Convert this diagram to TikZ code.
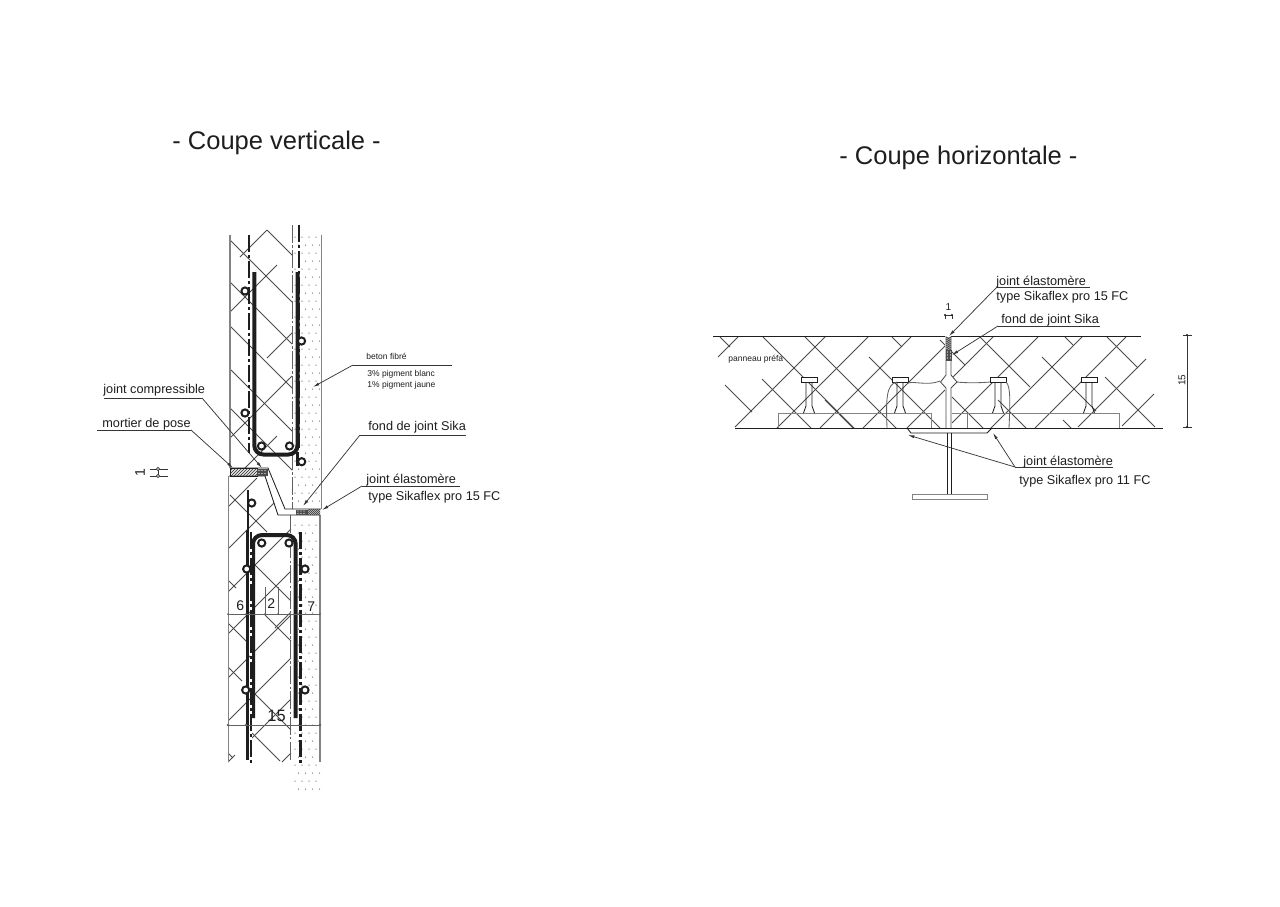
\documentclass[tikz,border=0pt]{standalone}
\usepackage{fontspec}
\setmainfont{Liberation Sans}
\usetikzlibrary{arrows.meta}
\newcommand{\lab}[1]{\fontsize{6.35pt}{7pt}\selectfont #1}
\newcommand{\smalllab}[1]{\fontsize{4.25pt}{5pt}\selectfont #1}
\newcommand{\dimlab}[1]{\fontsize{7pt}{8pt}\selectfont #1}
\definecolor{ink}{HTML}{1E1E1E}
\tikzset{
 thin line/.style={draw=ink,line width=0.42pt},
 wall/.style={draw=ink!55,line width=0.6pt},
 hatchline/.style={draw=ink!80,line width=0.42pt},
 heavy/.style={draw=ink,line width=2pt,rounded corners=4.5pt},
 thickdd/.style={draw=ink,line width=1.35pt,dash pattern=on 8.5pt off 1.5pt on 1.5pt off 1.5pt},
 axisline/.style={draw=ink!70,line width=0.45pt,dash pattern=on 9pt off 1.2pt on 1.2pt off 1.2pt},
 bar/.style={circle,draw=ink,line width=1pt,fill=white,minimum size=3.6pt,inner sep=0pt},
 lbl/.style={anchor=base west,inner sep=0pt,text=ink},
 leader/.style={draw=ink!90,line width=0.36pt},
 arrowed/.style={leader,-{Latex[length=3.2pt,width=1.5pt]}},
 plate/.style={draw=ink!55,line width=0.5pt},
}
\begin{document}
\begin{tikzpicture}[x=0.5pt,y=-0.5pt]
\useasboundingbox[fill=white] (0,0) rectangle (1280,906);
% ---------- titles
\node[lbl] (t1) at (172,149) {\fontsize{12.75pt}{14pt}\selectfont - Coupe verticale -};
\node[lbl] (t2) at (839,164) {\fontsize{12.75pt}{14pt}\selectfont - Coupe horizontale -};
% ---------- vertical section: hatching
\begin{scope}
\clip (229,228) -- (292,228) -- (292,509) -- (285,509) -- (268,468) -- (229,468) -- cycle;
\foreach \c/\a/\b in {10/230/293,-37/267/293,52/230/292,96/230/293,139/230/293,178/230/293}
  \draw[hatchline] (\a,\a+\c) -- (\b,\b+\c);
\foreach \c/\a/\b in {497/240/267,542/230/277,625/267/293,668/230/292,713/245/277}
  \draw[hatchline] (\a,\c-\a) -- (\b,\c-\b);
\end{scope}
\begin{scope}
\clip (228,476) -- (265,476) -- (278,515) -- (291,515) -- (291,763) -- (228,763) -- cycle;
\foreach \c/\a/\b in {265/230/267,310/253/291,352/229/236,350/265/291,395/228/247,439/228/242,439/253/291,481/252/280,525/228/233}
  \draw[hatchline] (\a,\a+\c) -- (\b,\b+\c);
\foreach \c/\a/\b in {735/229/257,777/229/275,820/229/291,862/229/291,906/228/291,903/275/291,949/228/291,990/228/235,990/252/291,1044/282/291}
  \draw[hatchline] (\a,\c-\a) -- (\b,\c-\b);
\end{scope}
% dots of the fibre concrete
\foreach \i in {0,...,69}{
 \pgfmathsetmacro{\yy}{237+\i*8}
 \pgfmathsetmacro{\off}{mod(\i,2)*3.5}
 \foreach \j in {0,1,2,3}{
  \pgfmathsetmacro{\xx}{295+\off+\j*7}
  \pgfmathparse{(\yy>505 && \yy<519) ? 0 : 1}
  \ifnum\pgfmathresult=1
   \fill[ink!50] (\xx,\yy) circle[radius=0.75];
  \fi
 }
}
% walls
\draw[wall] (230,235) -- (230,468);
\draw[wall] (228.5,476) -- (228.5,762);
\draw[wall] (321.5,235) -- (321.5,509);
\draw[wall] (320,515) -- (320,762);
\draw[axisline] (292,225) -- (292,509);
\draw[axisline] (290.7,515) -- (290.7,762);
% joint profile
\draw[thin line] (230,468) -- (268,468) -- (285,509) -- (321,509);
\draw[thin line] (229,476) -- (265,476) -- (278,515) -- (320,515);
% mortar
\begin{scope}
\clip (230,468) rectangle (257,476);
\foreach \x in {222,225,...,262} \draw[hatchline] (\x,476) -- (\x+8,468);
\end{scope}
\draw[thin line] (230,468) rectangle (257,476);
\fill[ink!80] (257,468.5) rectangle (268,475.5);
\foreach \x in {259,262,265} \foreach \y in {470.5,473.5} \fill[white] (\x,\y) circle[radius=0.7];
% joints at the face
\fill[ink!80] (296,509.5) rectangle (308,514.5);
\foreach \x in {298,301,304} \foreach \y in {511,513.5} \fill[white] (\x,\y) circle[radius=0.7];
\begin{scope}
\clip (308,509) rectangle (320,515);
\foreach \x in {302,304,...,322} \draw[hatchline] (\x,515) -- (\x+6,509);
\end{scope}
% reinforcement: upper
\draw[thickdd] (249,235) -- (249,453);
\draw[thickdd] (299,225) -- (299,448);
\draw[heavy] (254.3,272) -- (254.3,454.5) -- (297.5,454.5) -- (297.5,272);
\draw[draw=ink,line width=1.5pt] (297.7,452) -- (297.7,466);
\draw[draw=ink,line width=1.25pt] (248,490) -- (248,532);
\foreach \p/\q in {245/291,301.5/341,245/413,261.5/446,289.5/446,301.7/461.7,251.7/503}
 \node[bar] (u\p\q) at (\p,\q) {};
% reinforcement: lower
\draw[draw=ink,line width=1.25pt] (247.7,530) -- (247.7,760);
\draw[heavy] (253,718) -- (253,535) -- (295.7,535) -- (295.7,718);
\draw[draw=white,line width=1.3pt] (251,532) -- (251,763);
\draw[thickdd] (251,532) -- (251,763);
\draw[thickdd] (300.7,532) -- (300.7,763);
\foreach \p/\q in {261.7/543,289/543,246.7/569,305/569,245.7/690,305/690}
 \node[bar] (l\p\q) at (\p,\q) {};
% dimensions
\draw[wall,draw=ink!70,line width=0.45pt] (228,614) -- (320,614);
\draw[wall,draw=ink!70,line width=0.45pt] (228,725) -- (320,725);
\draw[thin line,draw=ink!70] (265,587) -- (265,614) (278,587) -- (278,614);
\foreach \x in {228,320,265,278,246,290}\fill[ink!70] (\x,614) circle[radius=1];
\foreach \x in {228,246,320}\fill[ink!70] (\x,725) circle[radius=1.3];
\node[lbl] (d6) at (236,610) {\dimlab{6}};
\node[lbl] (d2) at (267,608) {\dimlab{2}};
\node[lbl] (d7) at (307,611) {\dimlab{7}};
\node[lbl] (d15) at (267,721) {\fontsize{8.2pt}{9pt}\selectfont 15};
% small gap dimension
\node[anchor=center,inner sep=0pt,rotate=90,text=ink] (g1) at (140,473) {\dimlab{1}};
\draw[leader] (150,469) -- (168,469) (150,476) -- (168,476) (158,469) -- (158,476);
\draw[leader,fill=white] (158,469) circle[radius=1.6] (158,476) circle[radius=1.6];
% labels left figure
\node[lbl] (jc) at (103,393) {\lab{joint compressible}};
\node[lbl] (mp) at (102,427) {\lab{mortier de pose}};
\node[lbl] (bf) at (366,359) {\smalllab{beton fibré}};
\node[lbl] (p3) at (367,376) {\smalllab{3\% pigment blanc}};
\node[lbl] (p1) at (367,387) {\smalllab{1\% pigment jaune}};
\node[lbl] (fj) at (368,430) {\lab{fond de joint Sika}};
\node[lbl] (je) at (366,483) {\lab{joint élastomère}};
\node[lbl] (ty) at (368,500) {\lab{type Sikaflex pro 15 FC}};
\coordinate (jcA) at (104,398); \coordinate (jcB) at (202,398); \coordinate (jcT) at (262,468);
\coordinate (mpA) at (97,430); \coordinate (mpB) at (191,430); \coordinate (mpT) at (233,468);
\coordinate (bfA) at (353,365); \coordinate (bfB) at (452,365); \coordinate (bfT) at (313,387);
\coordinate (fjA) at (360,435); \coordinate (fjB) at (466,435); \coordinate (fjT) at (303,506);
\coordinate (jeA) at (362,486); \coordinate (jeB) at (460,486); \coordinate (jeT) at (322,510);
\draw[leader] (jcA) -- (jcB); \draw[arrowed] (jcB) -- (jcT);
\draw[leader] (mpA) -- (mpB); \draw[arrowed] (mpB) -- (mpT);
\draw[leader] (bfB) -- (bfA); \draw[arrowed] (bfA) -- (bfT);
\draw[leader] (fjB) -- (fjA); \draw[arrowed] (fjA) -- (fjT);
\draw[leader] (jeB) -- (jeA); \draw[arrowed] (jeA) -- (jeT);
% ---------- horizontal section
\begin{scope}
\clip (700,336) rectangle (1170,428);
\foreach \c/\a/\b in {1075/718/738,1162/735/825,1205/777/868,1248/820/911,1291/863/945,1335/907/945,1330/952/993,1375/952/1038,1419/990/1083,1463/1035/1126,1505/1078/1146,1548/1122/1154}
  \draw[hatchline] (\a,\c-\a) -- (\b,\c-\b);
\foreach \c/\a/\b in {-383/720/730,-340/725/752,-383/762/811,-426/763/855,-425/825/853,-468/805/897,-512/869/940,-555/892/902,-600/940/965,-555/952/983,-598/998/1026,-643/980/1030,-643/1063/1071,-685/1042/1096,-728/1065/1073,-728/1105/1155,-770/1107/1138}
  \draw[hatchline] (\a,\a+\c) -- (\b,\b+\c);
\end{scope}
\draw[thin line] (713,336) -- (1141,336);
\draw[thin line] (735,428) -- (1163,428);
% plates
\draw[plate] (778,428) -- (778,413) -- (931,413) -- (931,428);
\draw[plate] (952,413) -- (1119,413) -- (1119,428);
\draw[thin line,draw=ink!60] (967,413) -- (967,428);
% studs
\foreach \h/\s in {809/809,900.5/900,998/998,1089/1089}{
 \draw[thin line] (\s-3,382) -- (\s-3,406) -- (\s-5.5,413) (\s+3,382) -- (\s+3,406) -- (\s+5.5,413);
 \draw[thin line,fill=white] (\h-8,377) rectangle (\h+8,382);
}
% panel interface
\draw[thin line,draw=ink!70] (887,428) .. controls (886,400) and (886,384) .. (897,382);
\draw[thin line,draw=ink!70] (908,383) .. controls (915,381) and (928,386) .. (940,381);
\draw[thin line,draw=ink!70] (957,382) .. controls (965,383) and (980,383) .. (990,382);
\draw[thin line,draw=ink!70] (1006,382) .. controls (1011,386) and (1010,405) .. (1009,428);
% central joint
\fill[white] (945,375) -- (940,382) -- (945,388) -- (951,388) -- (957,382) -- (951,375) -- cycle;
\fill[white] (945,336) rectangle (951,428);
\draw[thin line,draw=ink!80] (946,336) -- (946,375) -- (940.5,382) -- (946,388) -- (946,428);
\draw[thin line,draw=ink!80] (951,336) -- (951,375) -- (957,382) -- (951,388) -- (951,428);
\begin{scope}
\clip (946,337) rectangle (951,350);
\fill[ink!35] (946,337) rectangle (951,350);
\foreach \y in {338,340,...,352} \draw[hatchline] (946,\y) -- (951,\y-3);
\end{scope}
\fill[ink!80] (946,350) rectangle (952,361);
\foreach \y in {352,355,358}\foreach \x in {947.5,950.5}\fill[white] (\x,\y) circle[radius=0.6];
% I-beam
\draw[thin line] (907,428) -- (911,433) -- (987,433) -- (992,428);
\draw[thin line] (947,433) -- (947,494) (951,433) -- (951,494);
\draw[plate] (912,494) rectangle (987,499);
% dimensions
\draw[leader] (1187,335) -- (1187,427) (1183,335) -- (1192,335) (1183,427) -- (1192,427);
\fill[ink] (1187,335) circle[radius=1.2] (1187,427) circle[radius=1.2];
\node[anchor=center,rotate=90,inner sep=0pt,text=ink] (h15) at (1182,380) {\fontsize{5pt}{6pt}\selectfont 15};
\node[inner sep=0pt,text=ink] (h1) at (948.5,307) {\fontsize{5pt}{6pt}\selectfont 1};
\draw[leader] (945,315) -- (952,315) (945,315) -- (945,319) (952,315) -- (952,319);
\fill[ink] (945,315) circle[radius=1.1] (952,315) circle[radius=1.1];
% labels right figure
\node[lbl] (pp) at (728,361) {\smalllab{panneau préfa}};
\node[lbl] (rje) at (996,285) {\lab{joint élastomère}};
\node[lbl] (rty) at (996,300) {\lab{type Sikaflex pro 15 FC}};
\node[lbl] (rfj) at (1001,323) {\lab{fond de joint Sika}};
\node[lbl] (lje) at (1023,465) {\lab{joint élastomère}};
\node[lbl] (lty) at (1019,484) {\lab{type Sikaflex pro 11 FC}};
\coordinate (rjeA) at (997,287); \coordinate (rjeB) at (1090,287); \coordinate (rjeT) at (949,336);
\coordinate (rfjA) at (998,326); \coordinate (rfjB) at (1100,326); \coordinate (rfjT) at (952,355);
\coordinate (ljeA) at (1015,467); \coordinate (ljeB) at (1113,467); \coordinate (ljeT) at (908,435); \coordinate (ljeU) at (993,433);
\draw[leader] (rjeB) -- (rjeA); \draw[arrowed] (rjeA) -- (rjeT);
\draw[leader] (rfjB) -- (rfjA); \draw[arrowed] (rfjA) -- (rfjT);
\draw[leader] (ljeB) -- (ljeA); \draw[arrowed] (ljeA) -- (ljeT); \draw[arrowed] (ljeA) -- (ljeU);
\end{tikzpicture}
\end{document}
